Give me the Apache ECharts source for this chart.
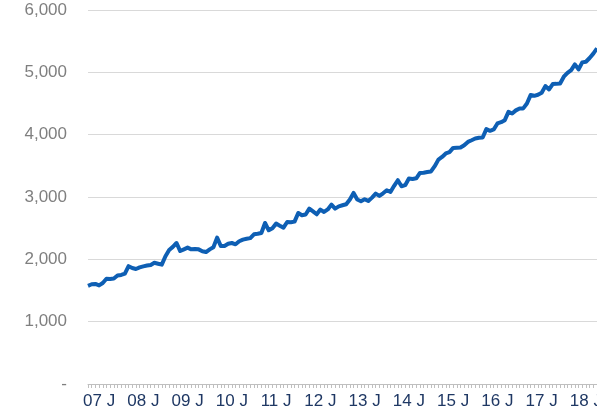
<!DOCTYPE html>
<html>
<head>
<meta charset="utf-8">
<script src="https://cdn.jsdelivr.net/npm/echarts@6/dist/echarts.min.js"></script>
<style>
  html, body { margin: 0; padding: 0; background: #fff; overflow: hidden; }
  #main { width: 597px; height: 414px; }
</style>
</head>
<body>
<div id="main"></div>
<script>
// years shown on the axis (Jan 2007 .. Jul 2018, monthly)
var years = ['07', '08', '09', '10', '11', '12', '13', '14', '15', '16', '17', '18'];
var lastYearMonths = 7;

// monthly values
var values = [
  1575, 1600, 1605, 1582, 1620, 1688, 1685, 1692, 1740, 1750, 1770, 1890,
  1860, 1845, 1870, 1887, 1900, 1910, 1945, 1930, 1915, 2050, 2150, 2200,
  2262, 2133, 2160, 2188, 2160, 2165, 2160, 2130, 2117, 2160, 2195, 2348,
  2214, 2214, 2250, 2262, 2241, 2290, 2316, 2330, 2340, 2402, 2410, 2422,
  2583, 2466, 2500, 2573, 2540, 2509, 2599, 2595, 2605, 2744, 2707, 2720,
  2814, 2770, 2723, 2798, 2760, 2800, 2878, 2814, 2850, 2867, 2884, 2960,
  3065, 2960, 2932, 2964, 2937, 2990, 3055, 3017, 3060, 3108, 3081, 3180,
  3269, 3173, 3190, 3296, 3290, 3300, 3386, 3390, 3402, 3410, 3494, 3600,
  3643, 3698, 3720, 3788, 3792, 3794, 3831, 3884, 3910, 3938, 3950, 3955,
  4088, 4061, 4083, 4180, 4200, 4233, 4366, 4340, 4390, 4421, 4421, 4500,
  4635, 4623, 4640, 4672, 4779, 4726, 4811, 4815, 4822, 4930, 4993, 5036,
  5127, 5047, 5160, 5170, 5230, 5300, 5385
];

var yMin = 0, yMax = 6000, yStep = 1000;

// category per month, e.g. "07-01"
var categories = [];
for (var y = 0; y < years.length; y++) {
    var n = (y === years.length - 1) ? lastYearMonths : 12;
    for (var m = 1; m <= n; m++) {
        categories.push(years[y] + '-' + (m < 10 ? '0' + m : m));
    }
}

var myChart = echarts.init(document.getElementById('main'));
var option = {
    animation: false,
    grid: { left: 88, right: 0, top: 10, bottom: 30, containLabel: false, outerBoundsMode: 'none' },
    xAxis: {
        type: 'category',
        boundaryGap: false,
        data: categories,
        axisLine: { lineStyle: { color: '#bfbfbf', width: 1 } },
        axisTick: { interval: 0, length: 4, lineStyle: { color: '#bfbfbf' } },
        axisLabel: {
            // year label sits a few months right of the January tick
            interval: function (i) { return i % 12 === 3; },
            formatter: function (v) { return v.split('-')[0] + ' J'; },
            color: '#1f3864',
            fontSize: 17,
            fontFamily: 'Liberation Sans, Arial, sans-serif',
            margin: 9
        },
        splitLine: { show: false }
    },
    yAxis: {
        type: 'value',
        min: yMin,
        max: yMax,
        interval: yStep,
        axisLine: { show: false },
        axisTick: { show: false },
        axisLabel: {
            formatter: function (v) { return v === 0 ? '-' : v.toLocaleString('en-US'); },
            color: '#7f7f7f',
            fontSize: 17,
            fontFamily: 'Liberation Sans, Arial, sans-serif',
            margin: 21
        },
        splitLine: { lineStyle: { color: '#d9d9d9', width: 1 } }
    },
    series: [{
        type: 'line',
        data: values,
        symbol: 'none',
        lineStyle: { color: '#0e5fb4', width: 4, join: 'round' }
    }]
};
myChart.setOption(option);
</script>
</body>
</html>
